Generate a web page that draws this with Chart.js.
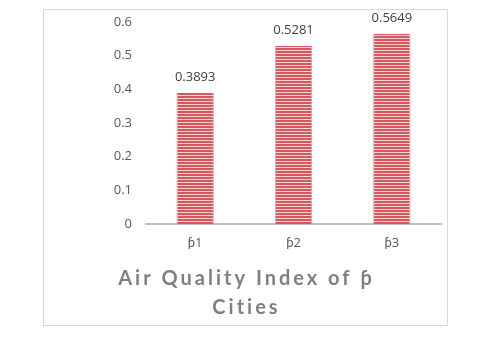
<!DOCTYPE html>
<html>
<head>
<meta charset="utf-8">
<script src="https://cdn.jsdelivr.net/npm/chart.js@4"></script>
<style>
  html, body { margin: 0; padding: 0; background: #ffffff; }
  #wrap { position: relative; width: 487px; height: 350px; }
  #frame { position: absolute; left: 43px; top: 9px; width: 403px; height: 315px; border: 1px solid #d9d9d9; box-sizing: content-box; }
  canvas { position: absolute; left: 0; top: 0; }
</style>
</head>
<body>
<div id="wrap">
  <div id="frame"></div>
  <canvas id="c" width="487" height="350"></canvas>
</div>
<script>
const categories = ["ƥ1", "ƥ2", "ƥ3"];
const aqiValues = [0.3893, 0.5281, 0.5649];
const valueLabels = ["0.3893", "0.5281", "0.5649"];
const yTicks = [0, 0.1, 0.2, 0.3, 0.4, 0.5, 0.6];
const titleLines = ["Air Quality Index of ƥ", "Cities"];

function stripePattern() {
  const p = document.createElement('canvas');
  p.width = 4; p.height = 3;
  const g = p.getContext('2d');
  g.fillStyle = '#f6d3d4';
  g.fillRect(0, 0, 4, 3);
  g.fillStyle = '#d4585c';
  g.fillRect(0, 0, 4, 2);
  return g.createPattern(p, 'repeat');
}

const valueLabelPlugin = {
  id: 'valueLabels',
  afterDatasetsDraw(chart) {
    const ctx = chart.ctx;
    const meta = chart.getDatasetMeta(0);
    ctx.save();
    ctx.font = '13px "Open Sans", Lato, sans-serif';
    ctx.fillStyle = '#404040';
    ctx.textAlign = 'center';
    ctx.textBaseline = 'bottom';
    meta.data.forEach((bar, i) => {
      ctx.fillText(valueLabels[i], bar.x, bar.y - 9);
    });
    ctx.restore();
  }
};

const spacedTitlePlugin = {
  id: 'spacedTitle',
  beforeDraw(chart) {
    const tb = chart.titleBlock;
    if (tb && !tb._spacedPatched) {
      const orig = tb.draw.bind(tb);
      tb.draw = function () {
        const ctx = chart.ctx;
        ctx.save();
        ctx.letterSpacing = '3px';
        orig();
        ctx.restore();
      };
      tb._spacedPatched = true;
    }
  }
};

new Chart(document.getElementById('c'), {
  type: 'bar',
  data: {
    labels: categories,
    datasets: [{
      data: aqiValues,
      backgroundColor: stripePattern(),
      borderColor: '#d9a0a2',
      borderWidth: { left: 1, right: 1, top: 0, bottom: 0 },
      barPercentage: 0.38,
      categoryPercentage: 1.0
    }]
  },
  options: {
    responsive: false,
    animation: false,
    devicePixelRatio: 1,
    layout: { padding: { left: 52, right: 46, top: 18, bottom: 28 } },
    plugins: {
      legend: { display: false },
      tooltip: { enabled: false },
      title: {
        display: true,
        position: 'bottom',
        text: titleLines,
        color: '#808080',
        font: { family: 'Lato, "Open Sans", sans-serif', size: 20, weight: 'bold', lineHeight: 1.45 },
        padding: { top: 0, bottom: 0 }
      }
    },
    scales: {
      x: {
        grid: { display: false, drawTicks: false },
        border: { display: true, color: '#bfbfbf', width: 2 },
        ticks: { color: '#595959', font: { family: '"Open Sans", Lato, sans-serif', size: 13 }, padding: 11 },
        afterFit(s) { s.height = 40; }
      },
      y: {
        min: 0,
        max: 0.6,
        afterBuildTicks(s) { s.ticks = yTicks.map(v => ({ value: v })); },
        grid: { display: false, drawTicks: false },
        border: { display: false },
        ticks: {
          color: '#595959',
          font: { family: '"Open Sans", Lato, sans-serif', size: 13 },
          padding: 14,
          callback: (v) => String(v)
        },
        afterFit(s) { s.width = 94; }
      }
    }
  },
  plugins: [valueLabelPlugin, spacedTitlePlugin]
});
</script>
</body>
</html>
